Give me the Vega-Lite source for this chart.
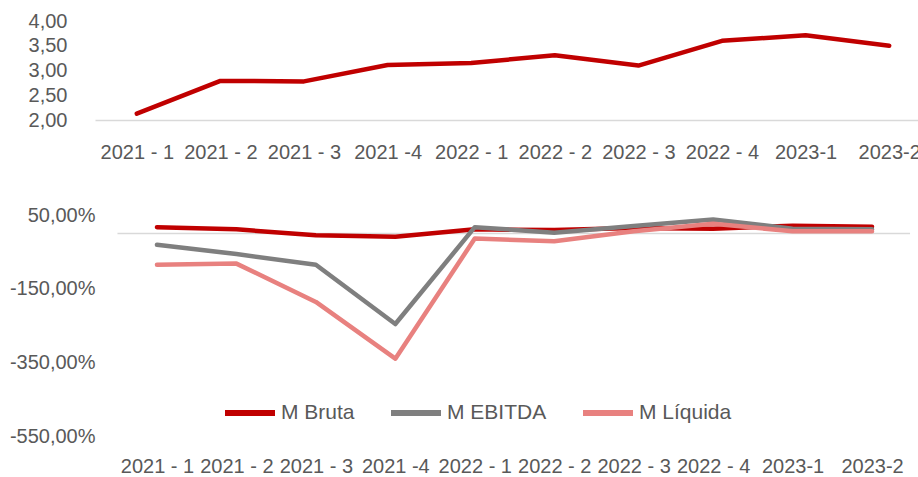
{
  "$schema": "https://vega.github.io/schema/vega-lite/v6.json",
  "background": "white",
  "padding": {"left": 9, "top": 11, "right": 0, "bottom": 0},
  "spacing": 43,
  "config": {
    "view": {"stroke": null},
    "font": "Liberation Sans",
    "axis": {"labelFont": "Liberation Sans", "labelFontSize": 20, "labelColor": "#595959", "ticks": false, "grid": false, "title": null, "domain": false},
    "legend": {"orient": "none", "legendX": 127, "legendY": 364, "direction": "horizontal", "symbolType": "stroke", "symbolSize": 2500, "symbolStrokeWidth": 6, "labelFont": "Liberation Sans", "labelFontSize": 21, "labelColor": "#595959", "columnPadding": 24, "labelOffset": 3, "title": null}
  },
  "vconcat": [
    {
      "width": 836,
      "height": 99,
      "data": {"values": [
        {"q": "2021 - 1", "v": 2.13},
        {"q": "2021 - 2", "v": 2.79},
        {"q": "2021 - 3", "v": 2.78},
        {"q": "2021 -4", "v": 3.11},
        {"q": "2022 - 1", "v": 3.15},
        {"q": "2022 - 2", "v": 3.31},
        {"q": "2022 - 3", "v": 3.10},
        {"q": "2022 - 4", "v": 3.60},
        {"q": "2023-1", "v": 3.71},
        {"q": "2023-2", "v": 3.50}
      ]},
      "mark": {"type": "line", "color": "#C00000", "strokeWidth": 4.5, "strokeCap": "round", "strokeJoin": "round"},
      "encoding": {
        "x": {"field": "q", "type": "nominal", "sort": null,
          "scale": {"type": "point", "padding": 0.5},
          "axis": {"labelAngle": 0, "domain": true, "domainColor": "#D9D9D9", "domainWidth": 1.5, "labelPadding": 22}},
        "y": {"field": "v", "type": "quantitative",
          "scale": {"domain": [2, 4], "nice": false, "zero": false},
          "axis": {"values": [2, 2.5, 3, 3.5, 4], "labelExpr": "replace(format(datum.value, '.2f'), '.', ',')", "labelPadding": 28}}
      }
    },
    {
      "width": 839,
      "height": 221,
      "layer": [
        {
          "data": {"values": [{"a": "2021 - 1", "b": "2023-2"}]},
          "mark": {"type": "rule", "color": "#D9D9D9", "strokeWidth": 1.5, "xOffset": -39.5, "x2Offset": 38},
          "encoding": {
            "x": {"field": "a", "type": "nominal",
              "scale": {"type": "point", "padding": 0.78, "domain": ["2021 - 1", "2021 - 2", "2021 - 3", "2021 -4", "2022 - 1", "2022 - 2", "2022 - 3", "2022 - 4", "2023-1", "2023-2"]},
              "axis": {"labelAngle": 0, "labelPadding": 20}},
            "x2": {"field": "b"},
            "y": {"datum": 0, "type": "quantitative"}
          }
        },
        {
          "data": {"values": [
            {"q": "2021 - 1", "s": "M Bruta", "v": 17},
            {"q": "2021 - 2", "s": "M Bruta", "v": 11},
            {"q": "2021 - 3", "s": "M Bruta", "v": -5},
            {"q": "2021 -4", "s": "M Bruta", "v": -9},
            {"q": "2022 - 1", "s": "M Bruta", "v": 11},
            {"q": "2022 - 2", "s": "M Bruta", "v": 9},
            {"q": "2022 - 3", "s": "M Bruta", "v": 15},
            {"q": "2022 - 4", "s": "M Bruta", "v": 13},
            {"q": "2023-1", "s": "M Bruta", "v": 21},
            {"q": "2023-2", "s": "M Bruta", "v": 18},
            {"q": "2021 - 1", "s": "M EBITDA", "v": -31},
            {"q": "2021 - 2", "s": "M EBITDA", "v": -56},
            {"q": "2021 - 3", "s": "M EBITDA", "v": -85},
            {"q": "2021 -4", "s": "M EBITDA", "v": -246},
            {"q": "2022 - 1", "s": "M EBITDA", "v": 17},
            {"q": "2022 - 2", "s": "M EBITDA", "v": 2},
            {"q": "2022 - 3", "s": "M EBITDA", "v": 20},
            {"q": "2022 - 4", "s": "M EBITDA", "v": 38},
            {"q": "2023-1", "s": "M EBITDA", "v": 13},
            {"q": "2023-2", "s": "M EBITDA", "v": 11},
            {"q": "2021 - 1", "s": "M Líquida", "v": -85},
            {"q": "2021 - 2", "s": "M Líquida", "v": -82},
            {"q": "2021 - 3", "s": "M Líquida", "v": -186},
            {"q": "2021 -4", "s": "M Líquida", "v": -340},
            {"q": "2022 - 1", "s": "M Líquida", "v": -14},
            {"q": "2022 - 2", "s": "M Líquida", "v": -21},
            {"q": "2022 - 3", "s": "M Líquida", "v": 6},
            {"q": "2022 - 4", "s": "M Líquida", "v": 26},
            {"q": "2023-1", "s": "M Líquida", "v": 6},
            {"q": "2023-2", "s": "M Líquida", "v": 6}
          ]},
          "mark": {"type": "line", "strokeWidth": 4.5, "strokeCap": "round", "strokeJoin": "round"},
          "encoding": {
            "x": {"field": "q", "type": "nominal"},
            "y": {"field": "v", "type": "quantitative",
              "scale": {"domain": [-550, 50], "nice": false, "zero": false},
              "axis": {"values": [-550, -350, -150, 50], "labelExpr": "(datum.value < 0 ? '-' : '') + replace(format(abs(datum.value), '.2f'), '.', ',') + '%'", "labelPadding": 0}},
            "color": {"field": "s", "type": "nominal",
              "scale": {"domain": ["M Bruta", "M EBITDA", "M Líquida"], "range": ["#C00000", "#7F7F7F", "#E8817F"]}}
          }
        }
      ]
    }
  ]
}
